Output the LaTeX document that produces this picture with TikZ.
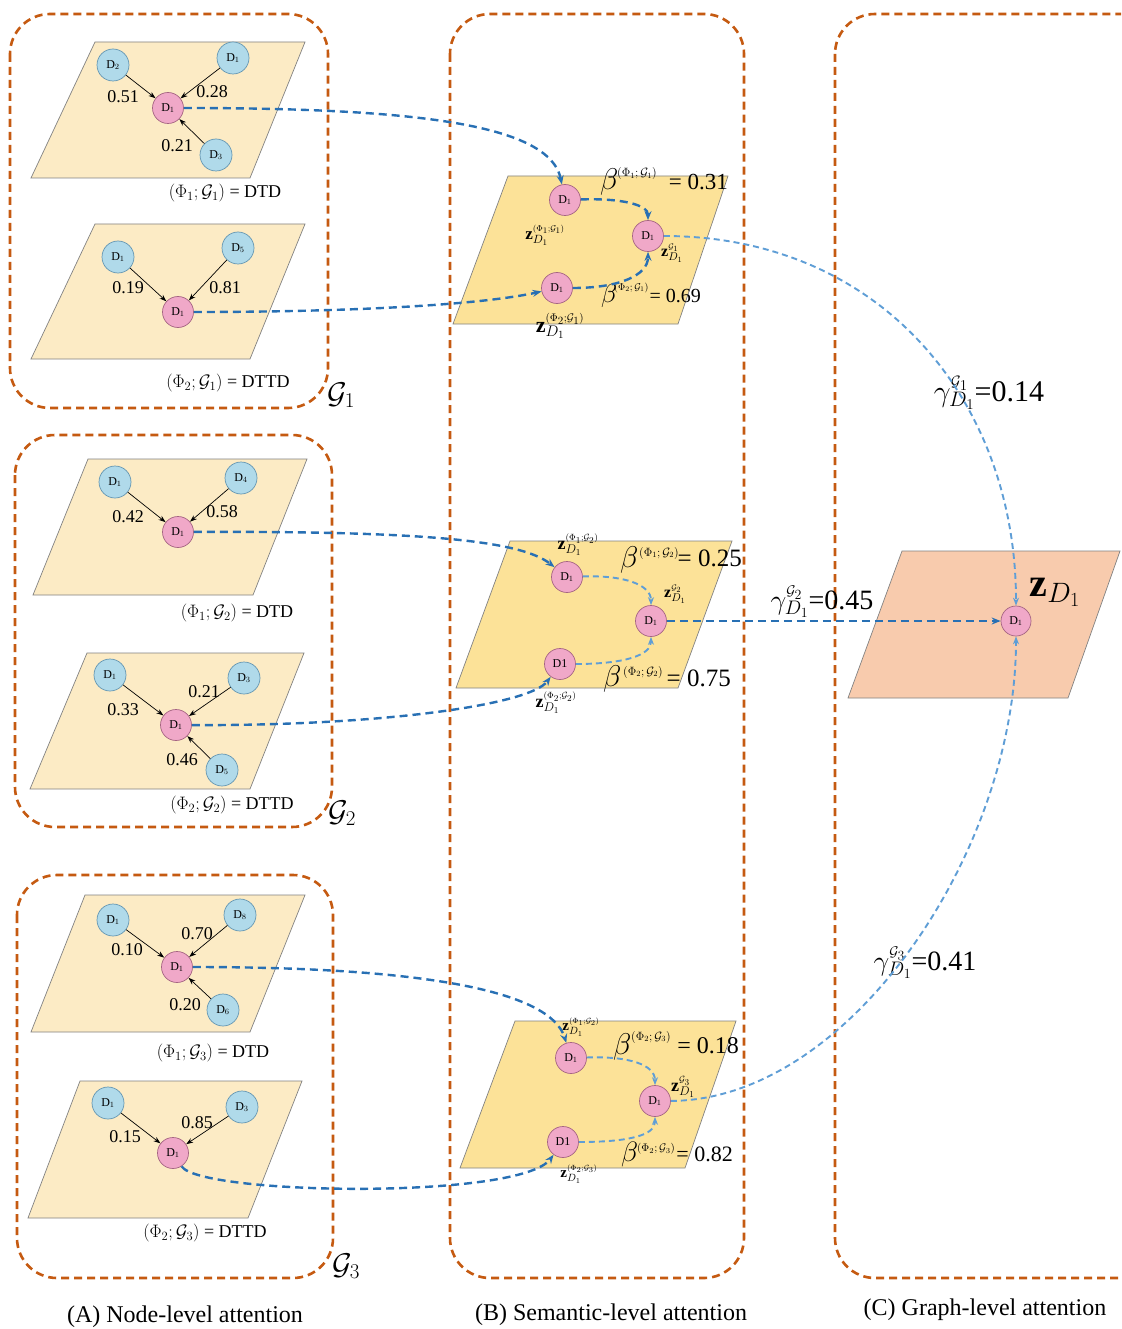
\RequirePackage{fix-cm}
\documentclass[tikz,border=0pt]{standalone}
\usepackage{fontspec}
\setmainfont{Liberation Serif}
\newfontfamily\tnr{Liberation Serif}
\usetikzlibrary{arrows.meta}
\newcommand\myfs[1]{\tnr\fontsize{#1}{#1}\selectfont}
\newcommand\sss{\scriptscriptstyle}
\definecolor{brn}{RGB}{197,90,17}
\definecolor{plA}{RGB}{252,235,197}
\definecolor{plB}{RGB}{252,226,152}
\definecolor{plC}{RGB}{248,203,173}
\definecolor{edg}{RGB}{130,130,130}
\definecolor{bfill}{RGB}{176,218,234}
\definecolor{bstroke}{RGB}{100,150,178}
\definecolor{pfill}{RGB}{240,168,200}
\definecolor{pstroke}{RGB}{165,100,130}
\definecolor{blueD}{RGB}{40,112,180}
\definecolor{blueL}{RGB}{95,158,214}
\tikzset{
  grp/.style={draw=brn, line width=2.6pt, dash pattern=on 8pt off 5pt, rounded corners=40pt},
  plane/.style={draw=edg, line width=0.7pt},
  bn/.style={circle, draw=bstroke, fill=bfill, minimum size=32pt, inner sep=0pt, line width=0.7pt, font=\myfs{12}},
  pn/.style={circle, draw=pstroke, fill=pfill, minimum size=31pt, inner sep=0pt, line width=0.7pt, font=\myfs{12}},
  ar/.style={-{Stealth[length=7pt,width=5pt]}, line width=0.7pt, black},
  bd/.style={draw=blueD, line width=2.4pt, dash pattern=on 8pt off 5pt, -{Stealth[length=9pt,width=7pt]}},
  bt/.style={draw=blueL, line width=1.9pt, dash pattern=on 6pt off 4pt, -{Stealth[length=8pt,width=6pt]}},
  wt/.style={font=\myfs{18}, inner sep=0pt},
  captxt/.style={font=\myfs{18}, inner sep=0pt},
  lw/.style={anchor=base west, inner sep=0pt},
  le/.style={anchor=base east, inner sep=0pt},
  sw/.style={anchor=west, inner sep=0pt},
  tx/.style={inner sep=0pt},
}
\begin{document}
\begin{tikzpicture}[x=1pt,y=-1pt]
\useasboundingbox (0,0) rectangle (1121,1329);
\clip (0,0) rectangle (1121,1329);
\fill[white] (0,0) rectangle (1121,1329);

% group boxes
\draw[grp] (10,14) rectangle (328,408);
\draw[grp] (15,435) rectangle (332,827);
\draw[grp] (17,875) rectangle (333,1278);
\draw[grp] (450,14) rectangle (744,1278);
\draw[grp] (835,14) rectangle (1165,1278);

% planes A
\filldraw[plane, fill=plA] (95,42) -- (305,42) -- (250,178) -- (31,178) -- cycle;
\filldraw[plane, fill=plA] (95,224) -- (305,224) -- (250,359) -- (31,359) -- cycle;
\filldraw[plane, fill=plA] (88,459) -- (307,459) -- (253,595) -- (33,595) -- cycle;
\filldraw[plane, fill=plA] (87,653) -- (304,653) -- (250,789) -- (30,789) -- cycle;
\filldraw[plane, fill=plA] (85,895) -- (305,895) -- (250,1032) -- (31,1032) -- cycle;
\filldraw[plane, fill=plA] (80,1081) -- (302,1081) -- (248,1218) -- (28,1218) -- cycle;
% planes B
\filldraw[plane, fill=plB] (508,176) -- (728,176) -- (678,324) -- (453,324) -- cycle;
\filldraw[plane, fill=plB] (510,541) -- (732,541) -- (678,688) -- (456,688) -- cycle;
\filldraw[plane, fill=plB] (515,1021) -- (736,1021) -- (685,1168) -- (460,1168) -- cycle;
% plane C
\filldraw[plane, fill=plC] (902,551) -- (1120,551) -- (1068,698) -- (848,698) -- cycle;

% ---------- A1 top
\node[bn] (a1n1) at (113,65) {D$_2$};
\node[bn] (a1n2) at (233,58) {D$_1$};
\node[bn] (a1n3) at (216,155) {D$_3$};
\node[pn] (a1c) at (168,108) {D$_1$};
\draw[ar] (a1n1) -- (a1c);
\draw[ar] (a1n2) -- (a1c);
\draw[ar] (a1n3) -- (a1c);
\node[wt] at (123,97) {0.51};
\node[wt] at (212,92) {0.28};
\node[wt] at (177,146) {0.21};
\node[captxt] at (225,193) {$(\Phi_1;\mathcal{G}_1)$ = DTD};
% A1 bottom
\node[bn] (a2n1) at (118,257) {D$_1$};
\node[bn] (a2n2) at (238,248) {D$_5$};
\node[pn] (a2c) at (178,312) {D$_1$};
\draw[ar] (a2n1) -- (a2c);
\draw[ar] (a2n2) -- (a2c);
\node[wt] at (128,288) {0.19};
\node[wt] at (225,288) {0.81};
\node[captxt] at (228,383) {$(\Phi_2;\mathcal{G}_1)$ = DTTD};
\node[font=\myfs{30}, tx] at (341,395) {$\mathcal{G}_1$};

% ---------- A2 top
\node[bn] (a3n1) at (115,482) {D$_1$};
\node[bn] (a3n2) at (241,478) {D$_4$};
\node[pn] (a3c) at (178,532) {D$_1$};
\draw[ar] (a3n1) -- (a3c);
\draw[ar] (a3n2) -- (a3c);
\node[wt] at (128,517) {0.42};
\node[wt] at (222,512) {0.58};
\node[captxt] at (237,613) {$(\Phi_1;\mathcal{G}_2)$ = DTD};
% A2 bottom
\node[bn] (a4n1) at (110,675) {D$_1$};
\node[bn] (a4n2) at (244,678) {D$_3$};
\node[bn] (a4n3) at (222,770) {D$_5$};
\node[pn] (a4c) at (176,725) {D$_1$};
\draw[ar] (a4n1) -- (a4c);
\draw[ar] (a4n2) -- (a4c);
\draw[ar] (a4n3) -- (a4c);
\node[wt] at (123,710) {0.33};
\node[wt] at (204,692) {0.21};
\node[wt] at (182,760) {0.46};
\node[captxt] at (232,805) {$(\Phi_2;\mathcal{G}_2)$ = DTTD};
\node[font=\myfs{30}, tx] at (342,813) {$\mathcal{G}_2$};

% ---------- A3 top
\node[bn] (a5n1) at (113,920) {D$_1$};
\node[bn] (a5n2) at (240,915) {D$_8$};
\node[bn] (a5n3) at (223,1010) {D$_6$};
\node[pn] (a5c) at (177,967) {D$_1$};
\draw[ar] (a5n1) -- (a5c);
\draw[ar] (a5n2) -- (a5c);
\draw[ar] (a5n3) -- (a5c);
\node[wt] at (127,950) {0.10};
\node[wt] at (197,934) {0.70};
\node[wt] at (185,1005) {0.20};
\node[captxt] at (213,1053) {$(\Phi_1;\mathcal{G}_3)$ = DTD};
% A3 bottom
\node[bn] (a6n1) at (108,1103) {D$_1$};
\node[bn] (a6n2) at (242,1107) {D$_3$};
\node[pn] (a6c) at (173,1153) {D$_1$};
\draw[ar] (a6n1) -- (a6c);
\draw[ar] (a6n2) -- (a6c);
\node[wt] at (125,1137) {0.15};
\node[wt] at (197,1123) {0.85};
\node[captxt] at (205,1233) {$(\Phi_2;\mathcal{G}_3)$ = DTTD};
\node[font=\myfs{30}, tx] at (346,1266) {$\mathcal{G}_3$};

% ---------- B1
\node[pn] (b1t) at (565,200) {D$_1$};
\node[pn] (b1r) at (648,236) {D$_1$};
\node[pn] (b1b) at (557,288) {D$_1$};
\node[lw, font=\myfs{30}] at (600,190) {$\beta$};
\node[sw, font=\myfs{12}] at (617,174) {$(\Phi_1;\mathcal{G}_1)$};
\node[le, font=\myfs{23}] at (728,190) {= 0.31};
\node[font=\myfs{17}, tx] at (545,235) {$\mathbf{z}_{D_1}^{\sss(\Phi_1;\mathcal{G}_1)}$};
\node[font=\myfs{16}, tx] at (672,253) {$\mathbf{z}_{D_1}^{\sss\mathcal{G}_1}$};
\node[lw, font=\myfs{26}] at (601,302) {$\beta$};
\node[sw, font=\myfs{10}] at (614,288) {$(\Phi_2;\mathcal{G}_1)$};
\node[le, font=\myfs{20}] at (701,302) {= 0.69};
\node[font=\myfs{22}, tx] at (560,326) {$\mathbf{z}_{D_1}^{\sss(\Phi_2;\mathcal{G}_1)}$};

% ---------- B2
\node[pn] (b2t) at (567,577) {D$_1$};
\node[pn] (b2r) at (651,621) {D$_1$};
\node[pn] (b2b) at (560,664) {D1};
\node[font=\myfs{18}, tx] at (578,545) {$\mathbf{z}_{D_1}^{\sss(\Phi_1;\mathcal{G}_2)}$};
\node[lw, font=\myfs{30}] at (620,567) {$\beta$};
\node[sw, font=\myfs{12}] at (639,553) {$(\Phi_1;\mathcal{G}_2)$};
\node[le, font=\myfs{25}] at (742,566) {= 0.25};
\node[font=\myfs{16}, tx] at (675,594) {$\mathbf{z}_{D_1}^{\sss\mathcal{G}_2}$};
\node[lw, font=\myfs{30}] at (603,686) {$\beta$};
\node[sw, font=\myfs{12}] at (623,672) {$(\Phi_2;\mathcal{G}_2)$};
\node[le, font=\myfs{25}] at (731,686) {= 0.75};
\node[font=\myfs{18}, tx] at (556,703) {$\mathbf{z}_{D_1}^{\sss(\Phi_2;\mathcal{G}_2)}$};

% ---------- B3
\node[pn] (b3t) at (571,1058) {D$_1$};
\node[pn] (b3r) at (655,1101) {D$_1$};
\node[pn] (b3b) at (563,1142) {D1};
\node[font=\myfs{15}, tx] at (581,1027) {$\mathbf{z}_{D_1}^{\sss(\Phi_1;\mathcal{G}_2)}$};
\node[lw, font=\myfs{30}] at (613,1054) {$\beta$};
\node[sw, font=\myfs{12}] at (631,1037) {$(\Phi_2;\mathcal{G}_3)$};
\node[le, font=\myfs{24}] at (739,1053) {= 0.18};
\node[font=\myfs{18}, tx] at (683,1087) {$\mathbf{z}_{D_1}^{\sss\mathcal{G}_3}$};
\node[lw, font=\myfs{28}] at (621,1161) {$\beta$};
\node[sw, font=\myfs{11}] at (637,1149) {$(\Phi_2;\mathcal{G}_3)$};
\node[le, font=\myfs{22}] at (733,1161) {= 0.82};
\node[font=\myfs{15}, tx] at (579,1174) {$\mathbf{z}_{D_1}^{\sss(\Phi_2;\mathcal{G}_3)}$};

% ---------- C
\node[pn, minimum size=30pt] (cD) at (1016,621) {D$_1$};
\node[font=\myfs{40}, tx] at (1055,592) {$\mathbf{z}_{D_1}$};
\node[font=\myfs{30}, tx] at (989,393) {$\gamma_{D_1}^{\sss\mathcal{G}_1}$=0.14};
\node[font=\myfs{28}, tx] at (822,602) {$\gamma_{D_1}^{\sss\mathcal{G}_2}$=0.45};
\node[font=\myfs{28}, tx] at (925,963) {$\gamma_{D_1}^{\sss\mathcal{G}_3}$=0.41};

% ---------- connectors A -> B
\draw[bd] (a1c) .. controls (420,108) and (550,125) .. (b1t);
\draw[bd] (a2c) .. controls (350,312) and (480,305) .. (b1b);
\draw[bd] (a3c) .. controls (420,531) and (520,540) .. (b2t);
\draw[bd] (a4c) .. controls (380,726) and (530,705) .. (b2b);
\draw[bd] (a5c) .. controls (420,967) and (550,990) .. (b3t);
\draw[bd] (a6c) .. controls (200,1195) and (520,1200) .. (b3b);
% inside B
\draw[bd] (b1t) .. controls (622,198) and (648,205) .. (b1r);
\draw[bd] (b1b) .. controls (620,288) and (648,275) .. (b1r);
\draw[bt] (b2t) .. controls (625,575) and (651,585) .. (b2r);
\draw[bt] (b2b) .. controls (625,664) and (651,655) .. (b2r);
\draw[bt] (b3t) .. controls (630,1056) and (655,1065) .. (b3r);
\draw[bt] (b3b) .. controls (630,1142) and (655,1135) .. (b3r);
% B -> C
\draw[bt] (b1r) .. controls (880,236) and (1016,400) .. (cD);
\draw[bd] (b2r) -- (cD);
\draw[bt] (b3r) .. controls (850,1100) and (1016,850) .. (cD);

% bottom labels
\node[font=\myfs{24}, tx] at (185,1317) {(A) Node-level attention};
\node[font=\myfs{24}, tx] at (611,1315) {(B) Semantic-level attention};
\node[font=\myfs{24}, tx] at (985,1310) {(C) Graph-level attention};
\end{tikzpicture}
\end{document}
